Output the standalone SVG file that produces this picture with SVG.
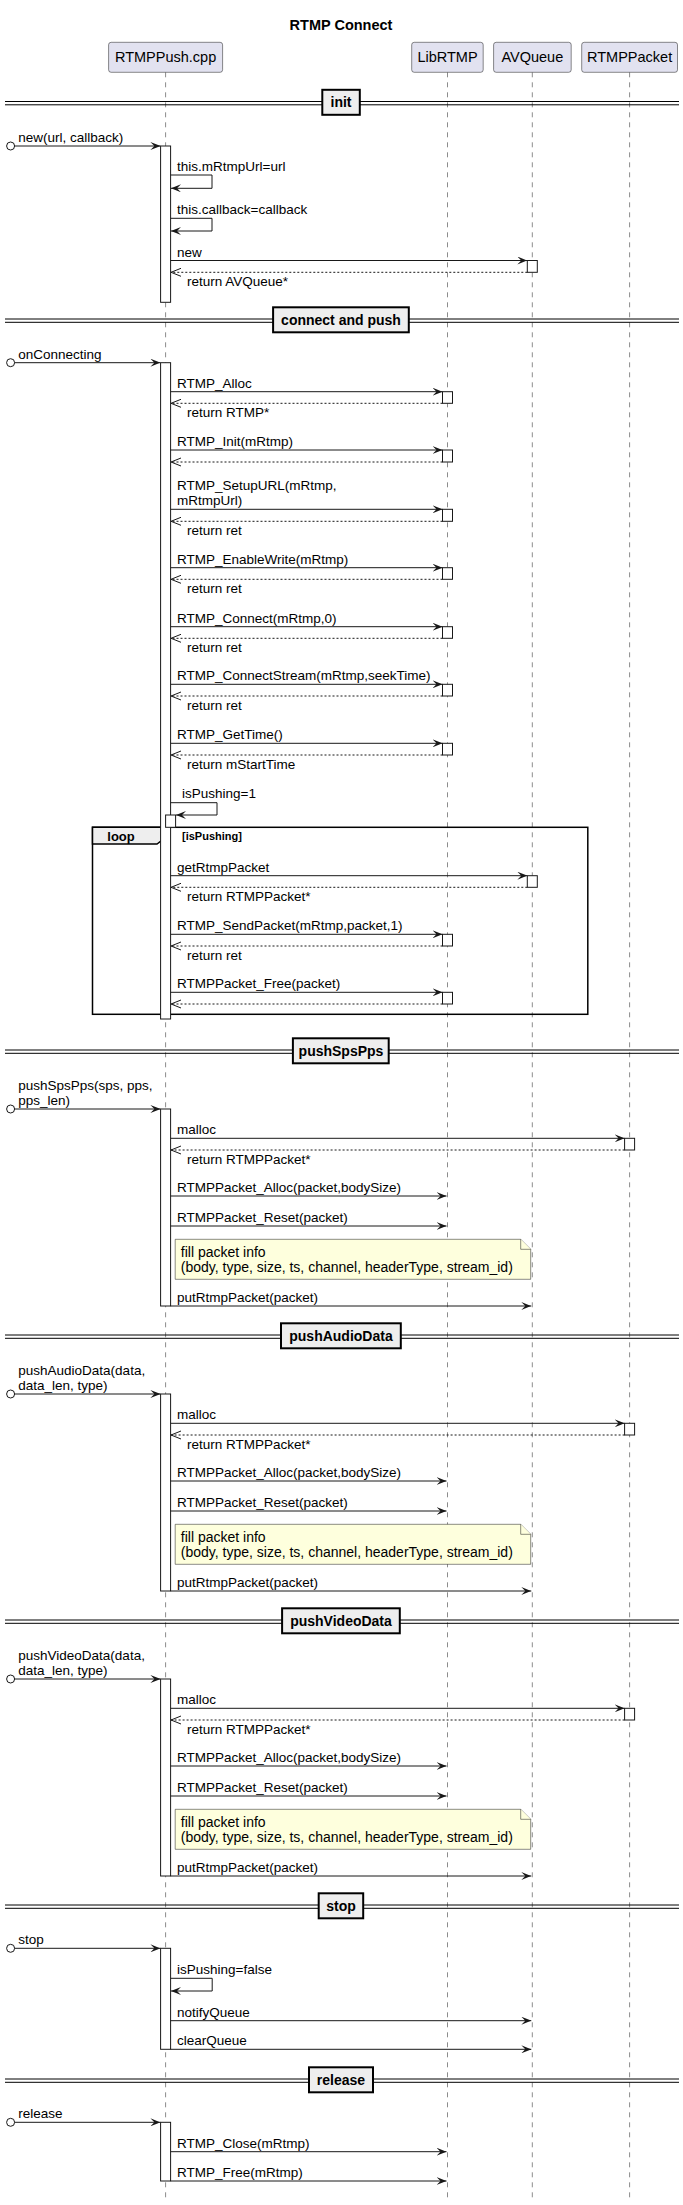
<svg xmlns="http://www.w3.org/2000/svg" width="683" height="2205" viewBox="0 0 683 2205">
<defs>
<style>
text{font-family:"Liberation Sans",Arial,sans-serif;fill:#000}
.ttl{font-size:14.5px;font-weight:bold}
.pt{font-size:14.5px}
.m{font-size:13.5px}
.nt{font-size:14px}
.dv{font-size:14px;font-weight:bold}
.lp{font-size:13px;font-weight:bold}
.gd{font-size:11px;font-weight:bold}
.pbox{fill:#E2E2F0;stroke:#181818;stroke-width:0.5}
.life{stroke:#181818;stroke-width:0.5;stroke-dasharray:5,5;fill:none}
.act{fill:#fff;stroke:#181818;stroke-width:1}
.msg{stroke:#181818;stroke-width:1;fill:none;marker-end:url(#ah)}
.ret{stroke:#181818;stroke-width:1;fill:none;stroke-dasharray:2,2;marker-end:url(#oh)}
.dl{stroke:#000;stroke-width:1}
.dbox{fill:#EEEEEE;stroke:#000;stroke-width:2}
.note{fill:#FEFFDD;stroke:#181818;stroke-width:0.5}
.frame{fill:none;stroke:#000;stroke-width:1.5}
.tab{fill:#EEEEEE;stroke:#000;stroke-width:1.5}
.circ{fill:#fff;stroke:#181818;stroke-width:1}
</style>
<marker id="ah" viewBox="0 0 10 8" markerWidth="10" markerHeight="8" refX="10" refY="4" orient="auto" markerUnits="userSpaceOnUse"><path d="M0,0 L10,4 L0,8 L4,4 Z" fill="#181818"/></marker>
<marker id="oh" viewBox="-1 -1 12 10" markerWidth="12" markerHeight="10" refX="10" refY="4" orient="auto" markerUnits="userSpaceOnUse"><path d="M0,0 L10,4 L0,8" fill="none" stroke="#181818" stroke-width="1"/></marker>
</defs>
<rect width="683" height="2205" fill="#fff"/>
<text class="ttl" x="341" y="30" text-anchor="middle">RTMP Connect</text>

<g id="lifelines">
<line class="life" x1="165.6" y1="72.3" x2="165.6" y2="2200"/>
<line class="life" x1="447.5" y1="72.3" x2="447.5" y2="2200"/>
<line class="life" x1="532.3" y1="72.3" x2="532.3" y2="2200"/>
<line class="life" x1="629.6" y1="72.3" x2="629.6" y2="2200"/>
</g>

<g id="p_rtmppush"><rect class="pbox" x="108.6" y="42.3" width="114" height="30" rx="2.5"/><text class="pt" x="165.6" y="62" text-anchor="middle">RTMPPush.cpp</text></g>
<g id="p_librtmp"><rect class="pbox" x="411.7" y="42.3" width="71.5" height="30" rx="2.5"/><text class="pt" x="447.5" y="62" text-anchor="middle">LibRTMP</text></g>
<g id="p_avqueue"><rect class="pbox" x="493.6" y="42.3" width="77.6" height="30" rx="2.5"/><text class="pt" x="532.3" y="62" text-anchor="middle">AVQueue</text></g>
<g id="p_rtmppacket"><rect class="pbox" x="581.7" y="42.3" width="95.8" height="30" rx="2.5"/><text class="pt" x="629.6" y="62" text-anchor="middle">RTMPPacket</text></g>

<g id="div_init"><line class="dl" x1="5" y1="101.5" x2="679" y2="101.5"/><line class="dl" x1="5" y1="104.8" x2="679" y2="104.8"/><rect class="dbox" x="322.3" y="89.8" width="37.5" height="25"/><text class="dv" x="341" y="107.3" text-anchor="middle">init</text></g>
<g id="div_connect"><line class="dl" x1="5" y1="319" x2="679" y2="319"/><line class="dl" x1="5" y1="322.3" x2="679" y2="322.3"/><rect class="dbox" x="273.1" y="307.3" width="135.7" height="25"/><text class="dv" x="341" y="324.8" text-anchor="middle">connect and push</text></g>
<g id="div_spspps"><line class="dl" x1="5" y1="1050" x2="679" y2="1050"/><line class="dl" x1="5" y1="1053.3" x2="679" y2="1053.3"/><rect class="dbox" x="292.9" y="1038.3" width="95.8" height="25"/><text class="dv" x="341" y="1055.8" text-anchor="middle">pushSpsPps</text></g>
<g id="div_audio"><line class="dl" x1="5" y1="1335" x2="679" y2="1335"/><line class="dl" x1="5" y1="1338.3" x2="679" y2="1338.3"/><rect class="dbox" x="281" y="1323.3" width="119.8" height="25"/><text class="dv" x="341" y="1340.8" text-anchor="middle">pushAudioData</text></g>
<g id="div_video"><line class="dl" x1="5" y1="1620" x2="679" y2="1620"/><line class="dl" x1="5" y1="1623.3" x2="679" y2="1623.3"/><rect class="dbox" x="282.1" y="1608.3" width="117.7" height="25"/><text class="dv" x="341" y="1625.8" text-anchor="middle">pushVideoData</text></g>
<g id="div_stop"><line class="dl" x1="5" y1="1905" x2="679" y2="1905"/><line class="dl" x1="5" y1="1908.3" x2="679" y2="1908.3"/><rect class="dbox" x="318.7" y="1893.3" width="44.5" height="25"/><text class="dv" x="341" y="1910.8" text-anchor="middle">stop</text></g>
<g id="div_release"><line class="dl" x1="5" y1="2079" x2="679" y2="2079"/><line class="dl" x1="5" y1="2082.3" x2="679" y2="2082.3"/><rect class="dbox" x="309" y="2067.3" width="64" height="25"/><text class="dv" x="341" y="2084.8" text-anchor="middle">release</text></g>

<g id="loop_frame">
<rect class="frame" x="92.5" y="827.3" width="495.3" height="187"/>
<polygon class="tab" points="92.5,827.3 166.7,827.3 166.7,836.7 157,844 92.5,844"/>
<text class="lp" x="107.3" y="840.5">loop</text>
<text class="gd" x="182" y="840">[isPushing]</text>
</g>

<g id="activations">
<rect class="act" x="160.6" y="146" width="10" height="156.3"/>
<rect class="act" x="527.3" y="260.5" width="10" height="11.8"/>
<rect class="act" x="160.6" y="362.7" width="10" height="656.3"/>
<rect class="act" x="442.5" y="391.7" width="10" height="11.6"/>
<rect class="act" x="442.5" y="450" width="10" height="12"/>
<rect class="act" x="442.5" y="509.3" width="10" height="12"/>
<rect class="act" x="442.5" y="567.7" width="10" height="11.6"/>
<rect class="act" x="442.5" y="626.7" width="10" height="11.6"/>
<rect class="act" x="442.5" y="684.3" width="10" height="11.7"/>
<rect class="act" x="442.5" y="743.3" width="10" height="11.7"/>
<rect class="act" x="165.6" y="815" width="10" height="12.3"/>
<rect class="act" x="527.3" y="875.7" width="10" height="11.6"/>
<rect class="act" x="442.5" y="934.3" width="10" height="11.7"/>
<rect class="act" x="442.5" y="992.3" width="10" height="11.7"/>
<rect class="act" x="160.6" y="1109" width="10" height="197"/>
<rect class="act" x="624.6" y="1138.3" width="10" height="11.7"/>
<rect class="act" x="160.6" y="1394" width="10" height="197"/>
<rect class="act" x="624.6" y="1423.3" width="10" height="11.7"/>
<rect class="act" x="160.6" y="1679" width="10" height="197"/>
<rect class="act" x="624.6" y="1708.3" width="10" height="11.7"/>
<rect class="act" x="160.6" y="1948.3" width="10" height="101"/>
<rect class="act" x="160.6" y="2122.3" width="10" height="58.7"/>
</g>

<g id="note_spspps"><path class="note" d="M175.2,1239.3 H520.7 L530.7,1249.3 V1279.3 H175.2 Z"/><path class="note" d="M520.7,1239.3 V1249.3 H530.7" fill="none"/><text class="nt" x="180.8" y="1256.5">fill packet info</text><text class="nt" x="180.8" y="1271.5">(body, type, size, ts, channel, headerType, stream_id)</text></g>
<g id="note_audio"><path class="note" d="M175.2,1524.3 H520.7 L530.7,1534.3 V1564.3 H175.2 Z"/><path class="note" d="M520.7,1524.3 V1534.3 H530.7" fill="none"/><text class="nt" x="180.8" y="1541.5">fill packet info</text><text class="nt" x="180.8" y="1556.5">(body, type, size, ts, channel, headerType, stream_id)</text></g>
<g id="note_video"><path class="note" d="M175.2,1809.3 H520.7 L530.7,1819.3 V1849.3 H175.2 Z"/><path class="note" d="M520.7,1809.3 V1819.3 H530.7" fill="none"/><text class="nt" x="180.8" y="1826.5">fill packet info</text><text class="nt" x="180.8" y="1841.5">(body, type, size, ts, channel, headerType, stream_id)</text></g>

<g id="connectors">
<circle class="circ" cx="10.6" cy="146" r="4"/><path class="msg" d="M14.6,146 H160.4"/><text class="m" x="18.3" y="142">new(url, callback)</text>
<path class="msg" d="M170.6,175 H212 V188.3 H171"/><text class="m" x="177" y="170.5">this.mRtmpUrl=url</text>
<path class="msg" d="M170.6,218.3 H212 V231 H171"/><text class="m" x="177" y="213.8">this.callback=callback</text>
<path class="msg" d="M170.6,260.5 H527.3"/><text class="m" x="177" y="256.5">new</text>
<path class="ret" d="M527.3,272.3 H171"/><text class="m" x="187" y="286">return AVQueue*</text>
<circle class="circ" cx="10.6" cy="362.7" r="4"/><path class="msg" d="M14.6,362.7 H160.4"/><text class="m" x="18.3" y="358.7">onConnecting</text>
<path class="msg" d="M170.6,391.7 H442.5"/><text class="m" x="177" y="387.7">RTMP_Alloc</text>
<path class="ret" d="M442.5,403.3 H171"/><text class="m" x="187" y="417">return RTMP*</text>
<path class="msg" d="M170.6,450 H442.5"/><text class="m" x="177" y="446">RTMP_Init(mRtmp)</text>
<path class="ret" d="M442.5,462 H171"/>
<path class="msg" d="M170.6,509.3 H442.5"/><text class="m" x="177" y="490.3">RTMP_SetupURL(mRtmp,</text><text class="m" x="177" y="505.3">mRtmpUrl)</text>
<path class="ret" d="M442.5,521.3 H171"/><text class="m" x="187" y="535">return ret</text>
<path class="msg" d="M170.6,567.7 H442.5"/><text class="m" x="177" y="563.7">RTMP_EnableWrite(mRtmp)</text>
<path class="ret" d="M442.5,579.3 H171"/><text class="m" x="187" y="593">return ret</text>
<path class="msg" d="M170.6,626.7 H442.5"/><text class="m" x="177" y="622.7">RTMP_Connect(mRtmp,0)</text>
<path class="ret" d="M442.5,638.3 H171"/><text class="m" x="187" y="652">return ret</text>
<path class="msg" d="M170.6,684.3 H442.5"/><text class="m" x="177" y="680.3">RTMP_ConnectStream(mRtmp,seekTime)</text>
<path class="ret" d="M442.5,696 H171"/><text class="m" x="187" y="709.7">return ret</text>
<path class="msg" d="M170.6,743.3 H442.5"/><text class="m" x="177" y="739.3">RTMP_GetTime()</text>
<path class="ret" d="M442.5,755 H171"/><text class="m" x="187" y="768.7">return mStartTime</text>
<path class="msg" d="M170.6,802.7 H217 V815 H176"/><text class="m" x="182" y="797.5">isPushing=1</text>
<path class="msg" d="M170.6,875.7 H527.3"/><text class="m" x="177" y="871.7">getRtmpPacket</text>
<path class="ret" d="M527.3,887.3 H171"/><text class="m" x="187" y="901">return RTMPPacket*</text>
<path class="msg" d="M170.6,934.3 H442.5"/><text class="m" x="177" y="930.3">RTMP_SendPacket(mRtmp,packet,1)</text>
<path class="ret" d="M442.5,946 H171"/><text class="m" x="187" y="959.7">return ret</text>
<path class="msg" d="M170.6,992.3 H442.5"/><text class="m" x="177" y="988.3">RTMPPacket_Free(packet)</text>
<path class="ret" d="M442.5,1004 H171"/>
<circle class="circ" cx="10.6" cy="1109" r="4"/><path class="msg" d="M14.6,1109 H160.4"/><text class="m" x="18.3" y="1090">pushSpsPps(sps, pps,</text><text class="m" x="18.3" y="1105">pps_len)</text>
<path class="msg" d="M170.6,1138.3 H624.6"/><text class="m" x="177" y="1134.3">malloc</text>
<path class="ret" d="M624.6,1150 H171"/><text class="m" x="187" y="1163.7">return RTMPPacket*</text>
<path class="msg" d="M170.6,1196 H446.5"/><text class="m" x="177" y="1192">RTMPPacket_Alloc(packet,bodySize)</text>
<path class="msg" d="M170.6,1226 H446.5"/><text class="m" x="177" y="1222">RTMPPacket_Reset(packet)</text>
<path class="msg" d="M170.6,1306 H531.3"/><text class="m" x="177" y="1302">putRtmpPacket(packet)</text>
<circle class="circ" cx="10.6" cy="1394" r="4"/><path class="msg" d="M14.6,1394 H160.4"/><text class="m" x="18.3" y="1375">pushAudioData(data,</text><text class="m" x="18.3" y="1390">data_len, type)</text>
<path class="msg" d="M170.6,1423.3 H624.6"/><text class="m" x="177" y="1419.3">malloc</text>
<path class="ret" d="M624.6,1435 H171"/><text class="m" x="187" y="1448.7">return RTMPPacket*</text>
<path class="msg" d="M170.6,1481 H446.5"/><text class="m" x="177" y="1477">RTMPPacket_Alloc(packet,bodySize)</text>
<path class="msg" d="M170.6,1511 H446.5"/><text class="m" x="177" y="1507">RTMPPacket_Reset(packet)</text>
<path class="msg" d="M170.6,1591 H531.3"/><text class="m" x="177" y="1587">putRtmpPacket(packet)</text>
<circle class="circ" cx="10.6" cy="1679" r="4"/><path class="msg" d="M14.6,1679 H160.4"/><text class="m" x="18.3" y="1660">pushVideoData(data,</text><text class="m" x="18.3" y="1675">data_len, type)</text>
<path class="msg" d="M170.6,1708.3 H624.6"/><text class="m" x="177" y="1704.3">malloc</text>
<path class="ret" d="M624.6,1720 H171"/><text class="m" x="187" y="1733.7">return RTMPPacket*</text>
<path class="msg" d="M170.6,1766 H446.5"/><text class="m" x="177" y="1762">RTMPPacket_Alloc(packet,bodySize)</text>
<path class="msg" d="M170.6,1796 H446.5"/><text class="m" x="177" y="1792">RTMPPacket_Reset(packet)</text>
<path class="msg" d="M170.6,1876 H531.3"/><text class="m" x="177" y="1872">putRtmpPacket(packet)</text>
<circle class="circ" cx="10.6" cy="1948.3" r="4"/><path class="msg" d="M14.6,1948.3 H160.4"/><text class="m" x="18.3" y="1944.3">stop</text>
<path class="msg" d="M170.6,1978.3 H212.2 V1991 H171"/><text class="m" x="177" y="1973.8">isPushing=false</text>
<path class="msg" d="M170.6,2020.7 H531.3"/><text class="m" x="177" y="2016.7">notifyQueue</text>
<path class="msg" d="M170.6,2049.3 H531.3"/><text class="m" x="177" y="2045.3">clearQueue</text>
<circle class="circ" cx="10.6" cy="2122.3" r="4"/><path class="msg" d="M14.6,2122.3 H160.4"/><text class="m" x="18.3" y="2118.3">release</text>
<path class="msg" d="M170.6,2151.7 H446.5"/><text class="m" x="177" y="2147.7">RTMP_Close(mRtmp)</text>
<path class="msg" d="M170.6,2181 H446.5"/><text class="m" x="177" y="2177">RTMP_Free(mRtmp)</text>
</g>
</svg>
